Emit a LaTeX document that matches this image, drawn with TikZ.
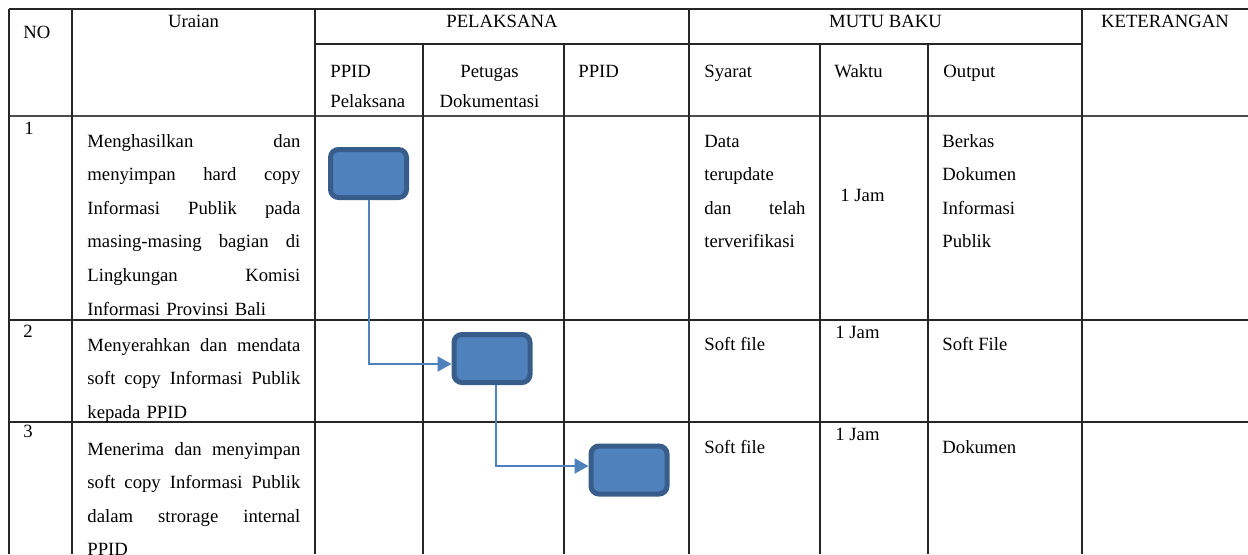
\documentclass[tikz,border=0pt]{standalone}
\usepackage{fontspec}
\setmainfont{Liberation Serif}
\usetikzlibrary{arrows.meta,positioning}
\definecolor{boxfill}{HTML}{4F81BD}
\definecolor{boxline}{HTML}{385D8A}
\tikzset{
  rule/.style={line width=0.6pt,black!85},
  rulebold/.style={line width=1.1pt,black!70},
  txt/.style={anchor=base west,inner sep=0pt,font=\fontsize{9.35}{16.8}\selectfont},
  para/.style={txt,align=left},
  head/.style={anchor=base,inner sep=0pt,font=\fontsize{9.35}{15}\selectfont},
  stepbox/.style={draw=boxline,fill=boxfill,line width=2.5pt,rounded corners=4pt,
                  minimum width=38pt,minimum height=24pt,inner sep=0pt},
  arrow/.style={-{Triangle[length=7pt,width=7.5pt]},line width=1pt,boxfill},
}
\begin{document}
\begin{tikzpicture}[x=0.5pt,y=-0.5pt]
\useasboundingbox (0,0) rectangle (1248,554);
% table rules
\foreach \y in {9,320,422} \draw[rule] (9,\y) -- (1248,\y);
\draw[rulebold] (9,116) -- (1248,116);
\draw[rule] (315,44) -- (1082,44);
\foreach \x in {9,72,315,689,1082} \draw[rule] (\x,9) -- (\x,554);
\foreach \x in {423,564,820,928} \draw[rule] (\x,44) -- (\x,554);

% header
\node[txt] (no) at (23,38) {NO};
\node[head] (uraian) at (193.5,27) {Uraian};
\node[head] (pelaksana) at (502,27) {PELAKSANA};
\node[head] (mutu) at (885.5,27) {MUTU BAKU};
\node[head] (ket) at (1165,27) {KETERANGAN};
\node[head,anchor=base west,text width=45pt,align=left] (ppidpel) at (330,77) {PPID\\Pelaksana};
\node[head,text width=60pt,align=center] (petugas) at (489.5,77) {Petugas\\Dokumentasi};
\node[txt] (ppid) at (578,77) {PPID};
\node[txt] (syarat) at (704,77) {Syarat};
\node[txt] (waktu) at (834,77) {Waktu};
\node[txt] (output) at (943,77) {Output};

% row 1
\node[txt] (no1) at (24,134) {1};
\node[para,text width=106.5pt] (ur1) at (87,147) {%
  Menghasilkan\hfill dan\\menyimpan\hfill hard\hfill copy\\
  Informasi\hfill Publik\hfill pada\\masing-masing\hfill bagian\hfill di\\
  Lingkungan\hfill Komisi\\Informasi Provinsi Bali};
\node[para,text width=50.5pt] (sy1) at (704,147) {%
  Data\\terupdate\\dan\hfill telah\\terverifikasi};
\node[txt] (wk1) at (840,201) {1 Jam};
\node[para,text width=60pt] (out1) at (942,147) {Berkas\\Dokumen\\Informasi\\Publik};

% row 2
\node[txt] (no2) at (23,337) {2};
\node[para,text width=106.5pt] (ur2) at (87,351) {%
  Menyerahkan\hfill dan\hfill mendata\\soft\hfill copy\hfill Informasi\hfill Publik\\
  kepada PPID};
\node[txt] (sy2) at (704,350) {Soft file};
\node[txt] (wk2) at (835,338) {1 Jam};
\node[txt] (out2) at (942,350) {Soft File};

% row 3
\node[txt] (no3) at (23,437) {3};
\node[para,text width=106.5pt] (ur3) at (87,455) {%
  Menerima\hfill dan\hfill menyimpan\\soft\hfill copy\hfill Informasi\hfill Publik\\
  dalam\hfill strorage\hfill internal\\PPID};
\node[txt] (sy3) at (704,453) {Soft file};
\node[txt] (wk3) at (835,440) {1 Jam};
\node[txt] (out3) at (942,453) {Dokumen};

% flow boxes
\node[stepbox] (box1) at (368.5,173.5) {};
\node[stepbox] (box2) at (492,358.5) {};
\node[stepbox] (box3) at (629,470) {};
\draw[arrow] (box1.south) |- ([yshift=-2.75pt]box2.west);
\draw[arrow] ([xshift=2pt]box2.south) |- ([yshift=2pt]box3.west);
\end{tikzpicture}
\end{document}
